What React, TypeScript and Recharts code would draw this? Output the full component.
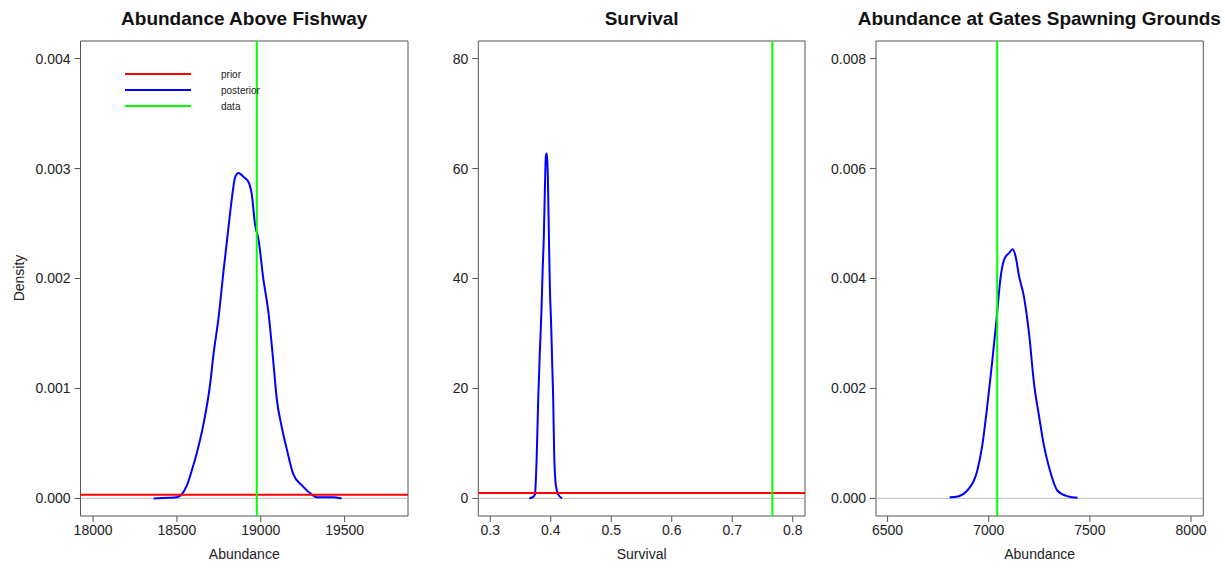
import { LineChart, Line, XAxis, YAxis, ReferenceLine, ReferenceArea, Legend } from 'recharts'

// posterior density, Abundance Above Fishway
const fishwayX = [18361, 18440, 18500, 18530, 18560, 18590, 18619, 18659, 18698, 18718, 18748, 18778, 18807, 18827, 18847, 18867, 18900, 18926, 18946, 18966, 18986, 19015, 19045, 19075, 19095, 19125, 19155, 19194, 19244, 19304, 19333, 19432, 19482]
const fishwayDensity = [0, 0.000005, 0.00001, 0.00004, 0.00012, 0.00026, 0.000416, 0.00068, 0.00104, 0.00131, 0.00164, 0.00207, 0.00246, 0.00272, 0.00292, 0.00296, 0.00292, 0.00288, 0.00277, 0.00249, 0.00236, 0.002, 0.0017, 0.00124, 0.00091, 0.00065, 0.00045, 0.00022, 0.00012, 0.000036, 0.00001, 0.00001, 0]

// posterior density, Survival
const survivalX = [0.3644, 0.371, 0.3738, 0.3766, 0.3793, 0.382, 0.3848, 0.3865, 0.3886, 0.3903, 0.392, 0.3936, 0.3952, 0.3969, 0.3985, 0.4007, 0.4023, 0.404, 0.4056, 0.4084, 0.4122, 0.4188]
const survivalDensity = [0, 0.27, 0.73, 7, 18.2, 26.8, 34.7, 41.3, 47.9, 56.4, 62.4, 62.8, 58.5, 47.9, 38.6, 31.4, 24.8, 18.2, 8.3, 2.4, 0.73, 0]

// posterior density, Abundance at Gates Spawning Grounds
const gatesX = [6807, 6852, 6893, 6943, 6968, 6993, 7017, 7039, 7058, 7078, 7100, 7118, 7133, 7149, 7174, 7199, 7224, 7249, 7273, 7298, 7340, 7389, 7439]
const gatesDensity = [0.00002, 0.00004, 0.00014, 0.0005, 0.00096, 0.00169, 0.00248, 0.00327, 0.004, 0.00436, 0.00446, 0.00453, 0.0044, 0.00406, 0.00367, 0.00301, 0.00209, 0.00149, 0.00096, 0.00057, 0.00014, 0.00004, 0.00001]

// prior density levels and observed data values
const priorLevels = [0.0000336, 1, null]
const observedValues = [18976, 0.7663, 7042]

const titles = ['Abundance Above Fishway', 'Survival', 'Abundance at Gates Spawning Grounds']
const xLabels = ['Abundance', 'Survival', 'Abundance']

const fishwayXTicks = [18000, 18500, 19000, 19500]
const survivalXTicks = [0.3, 0.4, 0.5, 0.6, 0.7, 0.8]
const gatesXTicks = [6500, 7000, 7500, 8000]
const fishwayYTicks = [0, 0.001, 0.002, 0.003, 0.004]
const survivalYTicks = [0, 20, 40, 60, 80]
const gatesYTicks = [0, 0.002, 0.004, 0.006, 0.008]

const legendItems = [
  { name: 'prior', color: '#ff0000' },
  { name: 'posterior', color: '#0000ff' },
  { name: 'data', color: '#00ff00' },
]

const zip = (xs: number[], ys: number[]) => xs.map((x, i) => ({ x, y: ys[i] }))

const FONT = '"Liberation Sans", Arial, sans-serif'
const TOP = 41
const BOTTOM = 516
const HEIGHT = 569

interface PanelProps {
  left: number
  yAxisWidth: number
  plotWidth: number
  data: { x: number; y: number }[]
  xDomain: [number, number]
  yDomain: [number, number]
  xTicks: number[]
  yTicks: number[]
  fmtX: (v: number) => string
  fmtY: (v: number) => string
  title: string
  xLabel: string
  prior: number | null
  observed: number
  showLegend?: boolean
}

function LegendBox() {
  return (
    <div style={{ fontFamily: FONT, fontSize: 10, color: '#222' }}>
      {legendItems.map(item => (
        <div key={item.name} style={{ display: 'flex', alignItems: 'center', height: 16 }}>
          <svg width={66} height={4} style={{ display: 'block' }}>
            <line x1={0} y1={2} x2={66} y2={2} stroke={item.color} strokeWidth={2} />
          </svg>
          <span style={{ marginLeft: 30 }}>{item.name}</span>
        </div>
      ))}
    </div>
  )
}

function Panel(p: PanelProps) {
  const width = p.yAxisWidth + p.plotWidth + 4
  const plotCenter = p.left + p.yAxisWidth + p.plotWidth / 2
  return (
    <>
      <div
        style={{
          position: 'absolute', left: plotCenter - 250, width: 500, top: 9,
          textAlign: 'center', fontFamily: FONT, fontWeight: 'bold', fontSize: 19, lineHeight: '19px', color: '#111',
        }}
      >
        {p.title}
      </div>
      <div style={{ position: 'absolute', left: p.left, top: 0 }}>
        <LineChart
          width={width}
          height={HEIGHT}
          data={p.data}
          margin={{ top: TOP, right: 4, bottom: HEIGHT - BOTTOM - 50, left: 0 }}
          style={{ fontFamily: FONT }}
        >
          <XAxis
            type="number"
            dataKey="x"
            domain={p.xDomain}
            ticks={p.xTicks}
            tickFormatter={p.fmtX}
            allowDataOverflow
            height={50}
            axisLine={false}
            tickSize={6}
            tickMargin={3}
            tickLine={{ stroke: '#555' }}
            tick={{ fill: '#222', fontSize: 14 }}
            interval={0}
            label={{ value: p.xLabel, position: 'insideBottom', offset: 7, fill: '#222', fontSize: 14 }}
          />
          <YAxis
            type="number"
            domain={p.yDomain}
            ticks={p.yTicks}
            tickFormatter={p.fmtY}
            allowDataOverflow
            width={p.yAxisWidth}
            axisLine={false}
            tickSize={6}
            tickMargin={4}
            tickLine={{ stroke: '#555' }}
            tick={{ fill: '#222', fontSize: 14 }}
            interval={0}
          />
          <ReferenceLine y={0} stroke="#bebebe" strokeWidth={1} />
          <Line
            type="monotone"
            dataKey="y"
            stroke="#0000ff"
            strokeWidth={2}
            dot={false}
            activeDot={false}
            isAnimationActive={false}
          />
          {p.prior !== null && <ReferenceLine y={p.prior} stroke="#ff0000" strokeWidth={2} />}
          <ReferenceLine x={p.observed} stroke="#00ff00" strokeWidth={2} />
          <ReferenceArea
            x1={p.xDomain[0]}
            x2={p.xDomain[1]}
            y1={p.yDomain[0]}
            y2={p.yDomain[1]}
            fill="none"
            stroke="#555"
            strokeWidth={1}
          />
          {p.showLegend && (
            <Legend
              layout="vertical"
              align="center"
              verticalAlign="middle"
              content={() => <LegendBox />}
              wrapperStyle={{ left: 125, top: 66, width: 'auto', height: 'auto' }}
            />
          )}
        </LineChart>
      </div>
    </>
  )
}

export default function App() {
  const thousandths = (v: number) => v.toFixed(3)
  return (
    <div style={{ position: 'absolute', left: 0, top: 0, width: 1225, height: HEIGHT, background: '#fff', fontFamily: FONT }}>
      <div
        style={{
          position: 'absolute', left: 19, top: 278, transform: 'translate(-50%, -50%) rotate(-90deg)',
          fontSize: 14, color: '#222', whiteSpace: 'nowrap',
        }}
      >
        Density
      </div>
      <Panel
        left={0}
        yAxisWidth={80.5}
        plotWidth={327.5}
        data={zip(fishwayX, fishwayDensity)}
        xDomain={[17925, 19878]}
        yDomain={[-0.00016, 0.00416]}
        xTicks={fishwayXTicks}
        yTicks={fishwayYTicks}
        fmtX={v => String(v)}
        fmtY={thousandths}
        title={titles[0]}
        xLabel={xLabels[0]}
        prior={priorLevels[0]}
        observed={observedValues[0]}
        showLegend
      />
      <Panel
        left={418}
        yAxisWidth={60.3}
        plotWidth={326.7}
        data={zip(survivalX, survivalDensity)}
        xDomain={[0.2802, 0.8203]}
        yDomain={[-3.2, 83.2]}
        xTicks={survivalXTicks}
        yTicks={survivalYTicks}
        fmtX={v => v.toFixed(1)}
        fmtY={v => String(v)}
        title={titles[1]}
        xLabel={xLabels[1]}
        prior={priorLevels[1]}
        observed={observedValues[1]}
      />
      <Panel
        left={795.7}
        yAxisWidth={80}
        plotWidth={327.3}
        data={zip(gatesX, gatesDensity)}
        xDomain={[6442.7, 8060.8]}
        yDomain={[-0.00032, 0.00832]}
        xTicks={gatesXTicks}
        yTicks={gatesYTicks}
        fmtX={v => String(v)}
        fmtY={thousandths}
        title={titles[2]}
        xLabel={xLabels[2]}
        prior={priorLevels[2]}
        observed={observedValues[2]}
      />
    </div>
  )
}
